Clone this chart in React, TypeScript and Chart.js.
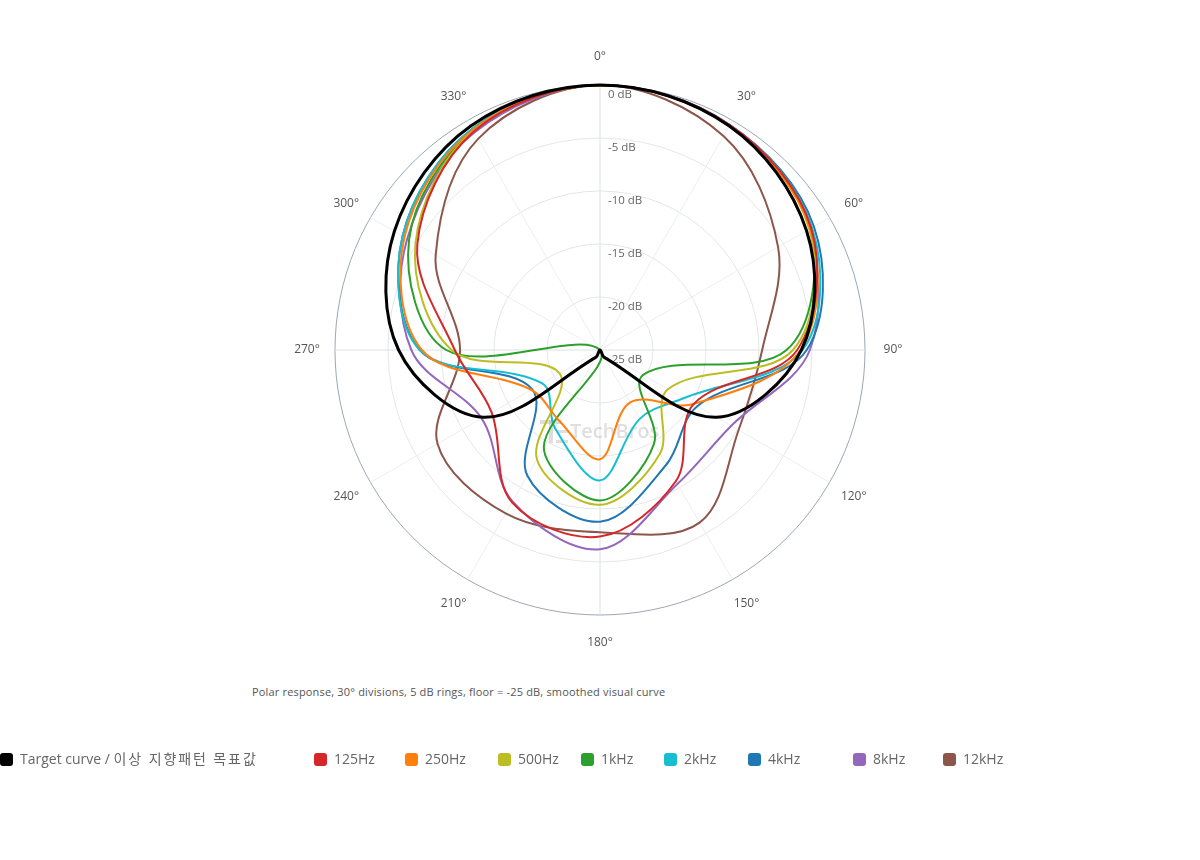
import React, { useEffect, useRef } from "react";
import { Chart, registerables } from "chart.js";

Chart.register(...registerables);

const FONT = "'Segoe UI', 'Open Sans', 'Noto Sans CJK KR', sans-serif";

// Angles (30° divisions) and dB rings
const ANGLE_LABELS = ["0°", "30°", "60°", "90°", "120°", "150°", "180°", "210°", "240°", "270°", "300°", "330°"];
const DB_TICKS = [0, -5, -10, -15, -20, -25];
const DB_MIN = -25;
const DB_MAX = 0;

// Series values (dB) at 0°, 30°, ... 330°
const TARGET = [0, -0.6, -2.5, -6.0, -12.3, -24.2, -25, -24.2, -12.3, -6.0, -2.6, -0.6];
const HZ_125 = [0, -0.5, -2.0, -6.4, -14.8, -10.7, -7.4, -8.4, -13.2, -11.3, -5.1, -1.2];
const HZ_250 = [0, -0.6, -2.1, -6.1, -14.8, -19.3, -14.7, -17.3, -17.5, -8.2, -3.7, -1.0];
const HZ_500 = [0, -0.6, -2.2, -6.8, -17.6, -13.7, -10.4, -13.1, -20.6, -11.0, -4.9, -1.1];
const KHZ_1 = [0, -0.6, -2.1, -7.4, -20.3, -14.8, -10.8, -14.4, -25, -10.5, -4.2, -1.1];
const KHZ_2 = [0, -0.5, -1.9, -5.9, -15.9, -17.5, -12.7, -16.5, -18.7, -8.0, -3.5, -0.9];
const KHZ_4 = [0, -0.5, -1.7, -5.5, -14.4, -12.5, -8.8, -11.3, -17.6, -8.0, -3.5, -0.9];
const KHZ_8 = [0, -0.5, -2.5, -5.2, -10.7, -10.4, -6.2, -8.5, -12.1, -7.2, -4.0, -1.3];
const KHZ_12 = [0, -1.7, -5.6, -9.7, -9.9, -6.2, -7.8, -7.2, -7.3, -11.8, -7.1, -2.0];

const SERIES_NAMES = ["Target curve / 이상 지향패턴 목표값", "125Hz", "250Hz", "500Hz", "1kHz", "2kHz", "4kHz", "8kHz", "12kHz"];
const SERIES_VALUES = [TARGET, HZ_125, HZ_250, HZ_500, KHZ_1, KHZ_2, KHZ_4, KHZ_8, KHZ_12];
const SERIES_COLORS = ["#000000", "#d62728", "#ff7f0e", "#bcbd22", "#2ca02c", "#17becf", "#1f77b4", "#9467bd", "#8c564b"];

const CAPTION = "Polar response, 30° divisions, 5 dB rings, floor = -25 dB, smoothed visual curve";

// legend layout (item slot widths, px)
const LEGEND_SLOTS = [314, 91, 93, 83, 83, 84, 105, 90, 80];

const HANGUL = /[\u3131-\uD79D]/;

const overlayPlugin = {
  id: "dbOverlay",
  beforeDatasetsDraw(chart: any) {
    const s = chart.scales.r;
    const ctx = chart.ctx;
    ctx.save();
    // watermark
    const wx = s.xCenter;
    const wy = s.yCenter + 82;
    ctx.fillStyle = "rgba(150,150,150,0.30)";
    ctx.fillRect(wx - 60, wy - 12, 22, 4);
    ctx.fillRect(wx - 51, wy - 12, 4, 23);
    ctx.fillRect(wx - 44, wy - 2, 12, 3);
    ctx.fillRect(wx - 44, wy + 8, 12, 3);
    ctx.font = `600 20px ${FONT}`;
    ctx.textAlign = "left";
    ctx.textBaseline = "middle";
    ctx.fillText("TechBros", wx - 30, wy);
    // angle labels, centred on a circle just outside the plot
    ctx.font = `12px ${FONT}`;
    ctx.fillStyle = "#555";
    ctx.textAlign = "center";
    ANGLE_LABELS.forEach((lab, i) => {
      const p = s.getPointPosition(i, s.drawingArea + 28);
      ctx.fillText(lab, p.x, p.y);
    });
    // dB labels
    ctx.font = `11.5px ${FONT}`;
    ctx.fillStyle = "#666";
    ctx.textAlign = "left";
    DB_TICKS.forEach((v) => {
      const d = s.getDistanceFromCenterForValue(v);
      ctx.fillText(`${v} dB`, s.xCenter + 8, s.yCenter - d + 10);
    });
    ctx.restore();
  },
};

function PolarChart() {
  const ref = useRef<HTMLCanvasElement | null>(null);
  useEffect(() => {
    if (!ref.current) return;
    Chart.defaults.font.family = FONT;
    const chart = new Chart(ref.current, {
      type: "radar",
      data: {
        labels: ANGLE_LABELS,
        datasets: SERIES_NAMES.map((name, i) => ({
          label: name,
          data: SERIES_VALUES[i],
          borderColor: SERIES_COLORS[i],
          backgroundColor: SERIES_COLORS[i],
          borderWidth: i === 0 ? 3 : 2,
          fill: false,
          pointRadius: 0,
          pointHoverRadius: 0,
          tension: 0.35,
        })),
      },
      options: {
        animation: false,
        responsive: true,
        maintainAspectRatio: false,
        layout: { padding: { top: 77, bottom: 43 } },
        plugins: { legend: { display: false }, tooltip: { enabled: false } },
        scales: {
          r: {
            min: DB_MIN,
            max: DB_MAX,
            ticks: { stepSize: 5, display: false },
            grid: {
              circular: true,
              color: (c: any) => (c.tick && c.tick.value === DB_MAX ? "#9ba7b3" : "#e3e6ea"),
              lineWidth: 1,
            },
            angleLines: {
              color: (c: any) => (c.index % 3 === 0 ? "#dde1e6" : "#eceef1"),
              lineWidth: 1,
            },
            pointLabels: { display: false },
          },
        },
      },
      plugins: [overlayPlugin],
    } as any);
    return () => chart.destroy();
  }, []);
  return <canvas ref={ref} />;
}

function LegendText({ text }: { text: string }) {
  const idx = text.search(HANGUL);
  if (idx < 0) return <>{text}</>;
  return (
    <>
      {text.slice(0, idx)}
      <span style={{ letterSpacing: "1.9px" }}>{text.slice(idx)}</span>
    </>
  );
}

export default function App() {
  return (
    <div style={{ position: "relative", width: 1184, height: 844, fontFamily: FONT }}>
      <div style={{ position: "absolute", left: 0, top: 0, width: 1184, height: 650 }}>
        <PolarChart />
      </div>
      <div
        style={{
          position: "absolute",
          left: 244,
          top: 676,
          fontSize: 11,
          lineHeight: "15px",
          letterSpacing: "0.17px",
          color: "#555",
          whiteSpace: "nowrap",
        }}
      >
        {CAPTION}
      </div>
      <div style={{ position: "fixed", left: 0, top: 749, display: "flex", alignItems: "center", height: 20 }}>
        {SERIES_NAMES.map((name, i) => (
          <div
            key={name}
            style={{ width: LEGEND_SLOTS[i], flex: "none", display: "flex", alignItems: "center", whiteSpace: "nowrap" }}
          >
            <span
              style={{
                display: "block",
                width: 13,
                minWidth: 13,
                height: 13,
                borderRadius: 3,
                background: SERIES_COLORS[i],
                marginRight: 7,
                flex: "none",
              }}
            />
            <span style={{ fontSize: 14, color: "#666", lineHeight: "20px" }}>
              <LegendText text={name} />
            </span>
          </div>
        ))}
      </div>
    </div>
  );
}
